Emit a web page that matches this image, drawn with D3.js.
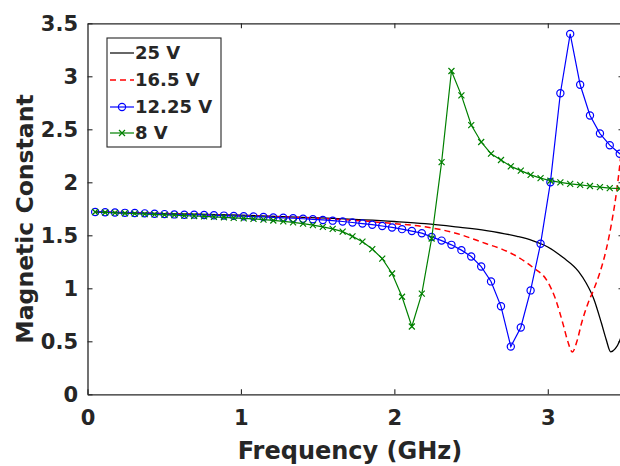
<!DOCTYPE html>
<html>
<head>
<meta charset="utf-8">
<script src="https://cdn.jsdelivr.net/npm/d3@7/dist/d3.min.js"></script>
<style>
  html, body { margin: 0; padding: 0; background: #fff; }
  svg { display: block; }
  text { font-family: "DejaVu Sans", sans-serif; font-weight: bold; fill: #262626; }
</style>
</head>
<body>
<svg id="chart" width="620" height="466"></svg>
<script>
// ---- data ----
const seriesNames = ["25 V", "16.5 V", "12.25 V", "8 V"];
const xTicks = [0, 1, 2, 3];
const yTicks = [0, 0.5, 1, 1.5, 2, 2.5, 3, 3.5];
const yTickLabels = ["0", "0.5", "1", "1.5", "2", "2.5", "3", "3.5"];

// frequency grid of the marked series (GHz)
const freq = [0.050, 0.115, 0.179, 0.244, 0.308, 0.373, 0.437, 0.502, 0.566, 0.631,
              0.695, 0.760, 0.824, 0.889, 0.953, 1.018, 1.082, 1.147, 1.211, 1.276,
              1.340, 1.405, 1.469, 1.534, 1.598, 1.663, 1.727, 1.792, 1.856, 1.921,
              1.985, 2.050, 2.114, 2.179, 2.243, 2.308, 2.372, 2.437, 2.501, 2.566,
              2.630, 2.695, 2.759, 2.824, 2.888, 2.953, 3.017, 3.082, 3.146, 3.211,
              3.275, 3.340, 3.404, 3.469, 3.533];
const v12 = [1.720, 1.718, 1.715, 1.712, 1.710, 1.707, 1.704, 1.700, 1.697, 1.694,
             1.695, 1.692, 1.689, 1.686, 1.683, 1.680, 1.677, 1.673, 1.669, 1.665,
             1.661, 1.656, 1.651, 1.645, 1.638, 1.630, 1.621, 1.611, 1.600, 1.588,
             1.574, 1.558, 1.540, 1.520, 1.485, 1.450, 1.410, 1.360, 1.300, 1.205,
             1.065, 0.830, 0.450, 0.630, 0.980, 1.420, 2.000, 2.840, 3.400, 2.920,
             2.630, 2.460, 2.350, 2.270, 2.200];
const v8 = [1.720, 1.715, 1.712, 1.708, 1.705, 1.700, 1.697, 1.693, 1.690, 1.686,
            1.682, 1.678, 1.674, 1.670, 1.665, 1.660, 1.655, 1.648, 1.640, 1.632,
            1.622, 1.610, 1.596, 1.580, 1.560, 1.535, 1.490, 1.440, 1.370, 1.280,
            1.140, 0.920, 0.640, 0.950, 1.470, 2.190, 3.050, 2.820, 2.540, 2.380,
            2.270, 2.210, 2.150, 2.110, 2.070, 2.040, 2.015, 2.000, 1.985, 1.975,
            1.965, 1.955, 1.945, 1.940, 1.935];

// smooth series (no markers)
const freq25 = [0.05, 0.5, 1.0, 1.5, 2.0, 2.2, 2.4, 2.6, 2.8, 2.9, 3.0, 3.1, 3.2, 3.25,
                3.3, 3.35, 3.38, 3.41, 3.44, 3.47, 3.5];
const v25 = [1.72, 1.705, 1.69, 1.665, 1.63, 1.61, 1.58, 1.545, 1.49, 1.45, 1.39, 1.29,
             1.16, 1.05, 0.90, 0.67, 0.52, 0.40, 0.43, 0.51, 0.66];
const freq16 = [0.05, 0.5, 1.0, 1.5, 1.8, 2.0, 2.2, 2.4, 2.6, 2.7, 2.8, 2.9, 3.0, 3.05,
                3.1, 3.13, 3.16, 3.19, 3.22, 3.26, 3.3, 3.34, 3.38, 3.42, 3.45, 3.5];
const v16 = [1.72, 1.705, 1.685, 1.66, 1.635, 1.61, 1.58, 1.52, 1.42, 1.37, 1.30, 1.20,
             1.06, 0.90, 0.66, 0.50, 0.40, 0.50, 0.67, 0.85, 0.99, 1.15, 1.36, 1.65,
             1.93, 2.6];

// ---- layout ----
const svg = d3.select("#chart");
const x = d3.scaleLinear().domain([0, 3.5]).range([87.5, 624.5]);
const y = d3.scaleLinear().domain([0, 3.5]).range([394.3, 23.3]);
const axisColor = "#262626";

svg.append("rect").attr("width", 620).attr("height", 466).attr("fill", "#fff");

svg.append("defs").append("clipPath").attr("id", "plotclip")
  .append("rect")
  .attr("x", x(0)).attr("y", y(3.5))
  .attr("width", x(3.5) - x(0)).attr("height", y(0) - y(3.5));

// axes
function styleAxis(g) {
  g.selectAll("path.domain").attr("stroke", axisColor).attr("stroke-width", 1.3);
  g.selectAll(".tick line").attr("stroke", axisColor).attr("stroke-width", 1.1);
  g.selectAll("text").attr("fill", axisColor).style("font-size", "21px")
    .style("font-family", "'DejaVu Sans', sans-serif").style("font-weight", "bold");
}
svg.append("g").attr("transform", `translate(0,${y(0)})`)
  .call(d3.axisBottom(x).tickValues(xTicks).tickFormat(d3.format("d"))
        .tickSizeInner(-5).tickSizeOuter(0).tickPadding(16))
  .call(styleAxis);
svg.append("g").attr("transform", `translate(0,${y(3.5)})`)
  .call(d3.axisTop(x).tickValues(xTicks.slice(1)).tickFormat("")
        .tickSizeInner(-5).tickSizeOuter(0))
  .call(styleAxis);
svg.append("g").attr("transform", `translate(${x(0)},0)`)
  .call(d3.axisLeft(y).tickValues(yTicks).tickFormat((d, i) => yTickLabels[i])
        .tickSizeInner(-5).tickSizeOuter(0).tickPadding(9.5))
  .call(styleAxis);
svg.append("g").attr("transform", `translate(${x(3.5)},0)`)
  .call(d3.axisRight(y).tickValues(yTicks.slice(1, -1)).tickFormat("")
        .tickSizeInner(-6).tickSizeOuter(0))
  .call(styleAxis);

// axis titles
svg.append("text").attr("x", 350).attr("y", 459)
  .attr("text-anchor", "middle").style("font-size", "24px")
  .text("Frequency (GHz)");
svg.append("text")
  .attr("transform", "translate(33,219) rotate(-90)")
  .attr("text-anchor", "middle").style("font-size", "23.5px")
  .text("Magnetic Constant");

// lines
const plot = svg.append("g").attr("clip-path", "url(#plotclip)");
const smooth = d3.line().x(d => x(d[0])).y(d => y(d[1])).curve(d3.curveMonotoneX);
const straight = d3.line().x(d => x(d[0])).y(d => y(d[1]));

const d25 = d3.zip(freq25, v25);
const d16 = d3.zip(freq16, v16);
const d12 = d3.zip(freq, v12);
const d8 = d3.zip(freq, v8);

plot.append("path").datum(d25).attr("d", smooth)
  .attr("fill", "none").attr("stroke", "#000").attr("stroke-width", 1.3);
plot.append("path").datum(d16).attr("d", smooth)
  .attr("fill", "none").attr("stroke", "#ff0000").attr("stroke-width", 1.5)
  .attr("stroke-dasharray", "6,4");
plot.append("path").datum(d12).attr("d", straight)
  .attr("fill", "none").attr("stroke", "#0000ff").attr("stroke-width", 1.2);
plot.selectAll("circle.m12").data(d12).join("circle").attr("class", "m12")
  .attr("cx", d => x(d[0])).attr("cy", d => y(d[1])).attr("r", 3.6)
  .attr("fill", "none").attr("stroke", "#0000ff").attr("stroke-width", 1.2);
plot.append("path").datum(d8).attr("d", straight)
  .attr("fill", "none").attr("stroke", "#008000").attr("stroke-width", 1.2);
const cross = "M-3,-3L3,3M-3,3L3,-3";
plot.selectAll("path.m8").data(d8).join("path").attr("class", "m8")
  .attr("transform", d => `translate(${x(d[0])},${y(d[1])})`)
  .attr("d", cross).attr("fill", "none").attr("stroke", "#008000").attr("stroke-width", 1.2);

// legend
const lg = svg.append("g");
lg.append("rect").attr("x", 107).attr("y", 38).attr("width", 114).attr("height", 109)
  .attr("fill", "#fff").attr("stroke", axisColor).attr("stroke-width", 1.1);
const legendRows = [53, 80, 107, 133];
const legendStyles = [
  {color: "#000", dash: null, marker: null},
  {color: "#ff0000", dash: "6,4", marker: null},
  {color: "#0000ff", dash: null, marker: "o"},
  {color: "#008000", dash: null, marker: "x"}
];
seriesNames.forEach((name, i) => {
  const yy = legendRows[i], st = legendStyles[i];
  const ln = lg.append("line").attr("x1", 110).attr("x2", 134).attr("y1", yy).attr("y2", yy)
    .attr("stroke", st.color).attr("stroke-width", i === 1 ? 1.5 : 1.2);
  if (st.dash) ln.attr("stroke-dasharray", st.dash);
  if (st.marker === "o") lg.append("circle").attr("cx", 122).attr("cy", yy).attr("r", 3.6)
    .attr("fill", "none").attr("stroke", st.color).attr("stroke-width", 1.2);
  if (st.marker === "x") lg.append("path").attr("transform", `translate(122,${yy})`)
    .attr("d", cross).attr("fill", "none").attr("stroke", st.color).attr("stroke-width", 1.2);
  lg.append("text").attr("x", 135).attr("y", yy).attr("dy", "0.36em")
    .style("font-size", "18px").attr("fill", "#000").text(name);
});
</script>
</body>
</html>
